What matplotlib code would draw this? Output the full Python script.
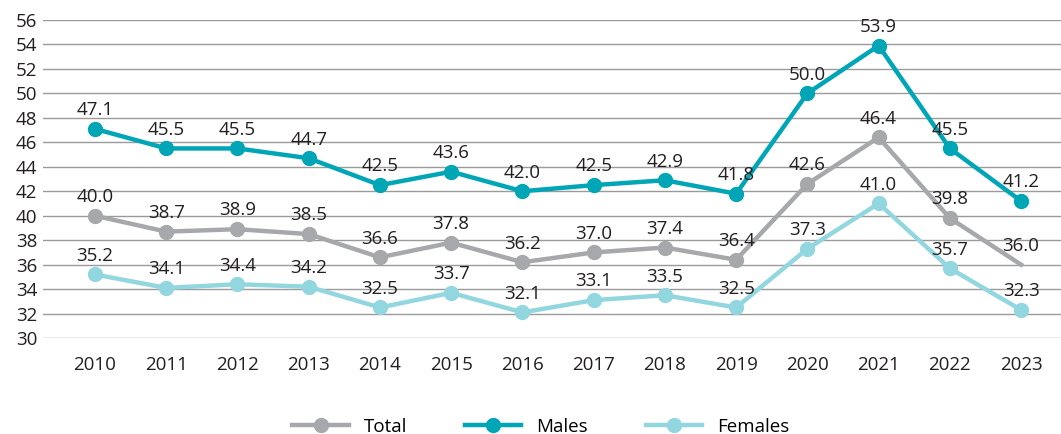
import matplotlib
matplotlib.use("Agg")
from matplotlib import pyplot as plt

years = [2010, 2011, 2012, 2013, 2014, 2015, 2016, 2017, 2018, 2019, 2020, 2021, 2022, 2023]
total = [40.0, 38.7, 38.9, 38.5, 36.6, 37.8, 36.2, 37.0, 37.4, 36.4, 42.6, 46.4, 39.8, 36.0]
males = [47.1, 45.5, 45.5, 44.7, 42.5, 43.6, 42.0, 42.5, 42.9, 41.8, 50.0, 53.9, 45.5, 41.2]
females = [35.2, 34.1, 34.4, 34.2, 32.5, 33.7, 32.1, 33.1, 33.5, 32.5, 37.3, 41.0, 35.7, 32.3]

plt.rcParams['font.family'] = ['Open Sans', 'DejaVu Sans']

fig = plt.figure(figsize=(10.61, 4.34), dpi=100)
ax = fig.add_axes([0.0405, 0.221, 0.9595, 0.733])

c_total = '#a7a8ac'
c_males = '#00a6b6'
c_females = '#92d6e0'
fs = 13.5

# total line has no marker on the last point
ax.plot(years, total, color=c_total, linewidth=3.2, marker='o', markersize=10,
        markevery=list(range(len(years) - 1)), label='Total', zorder=3)
ax.plot(years, males, color=c_males, linewidth=3.2, marker='o', markersize=10,
        label='Males', zorder=4)
ax.plot(years, females, color=c_females, linewidth=3.2, marker='o', markersize=10,
        label='Females', zorder=3)

for series in (total, males, females):
    for x, y in zip(years, series):
        ax.annotate(f'{y:.1f}', (x, y), xytext=(0, 7), textcoords='offset points',
                    ha='center', va='bottom', fontsize=fs, color='#231f20', zorder=5)

ax.set_ylim(30, 56)
ax.set_yticks(range(30, 57, 2))
ax.set_xlim(2009.27, 2023.56)
ax.set_xticks(years)
ax.grid(axis='y', color='#9a9a9a', linewidth=1)
ax.set_axisbelow(True)
for s in ax.spines.values():
    s.set_visible(False)
ax.tick_params(axis='both', length=0, labelsize=fs, colors='#231f20')
ax.tick_params(axis='y', pad=4)
ax.tick_params(axis='x', pad=13)

fig.legend(loc='lower center', bbox_to_anchor=(0.51, -0.043), ncol=3, frameon=False,
           fontsize=fs, handlelength=3.0, columnspacing=3.1, handletextpad=0.8)

fig.savefig('out.png', dpi=100)
